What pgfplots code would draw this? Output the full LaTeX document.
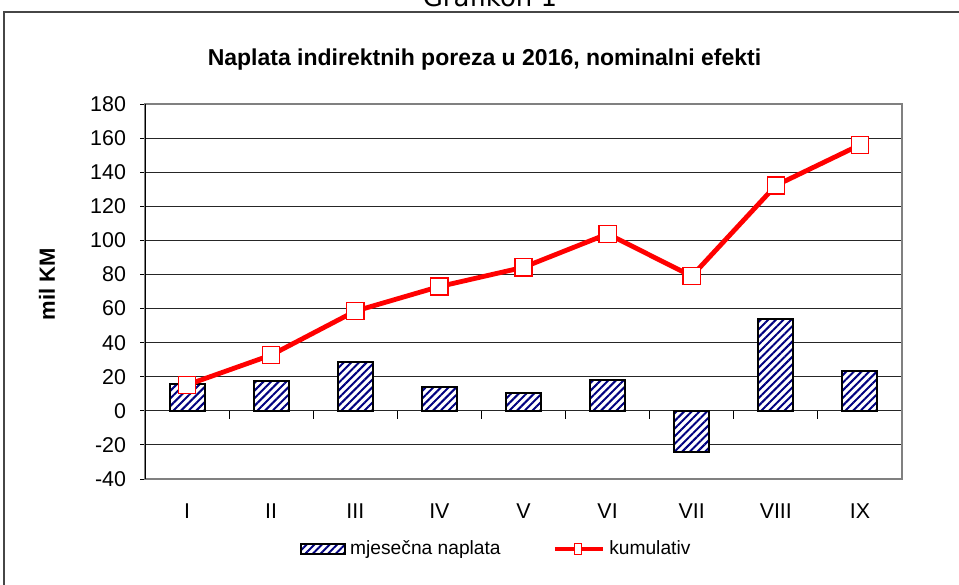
\documentclass[border=0pt]{standalone}
\usepackage{pgfplots}
\pgfplotsset{compat=1.18}
\usepackage{fontspec}
\setmainfont{Liberation Sans}
\newfontfamily\dejavu{DejaVu Sans}
\usetikzlibrary{patterns.meta}
\definecolor{navy}{RGB}{0,0,128}
\definecolor{xlred}{RGB}{255,0,0}
\tikzset{hatch/.style={preaction={fill=white}, preaction={pattern={Lines[angle=45,distance=2.7pt,line width=1pt]}, pattern color=navy}}}
\pgfplotstableread{
x  monthly  cumul
0  15.6   15.2
1  17.4   32.7
2  28.5   58.5
3  14.1   72.9
4  10.2   84.2
5  17.9  103.8
6 -24.3   79.0
7  53.7  132.2
8  23.2  156.0
}\datatable
\begin{document}
\begin{tikzpicture}
\useasboundingbox (0,0) rectangle (479.5pt,292pt);
\clip (0,0) rectangle (479.5pt,292pt);
\draw[gray!55!black, line width=1pt] (2pt,-10pt) rectangle (500pt,286pt);
\node[anchor=base, font=\dejavu\fontsize{13}{15}\selectfont] at (245pt,288.5pt) {Grafikon 1};
\node[anchor=base, font=\bfseries\fontsize{11.5}{13}\selectfont] at (242.25pt,259pt) {Naplata indirektnih poreza u 2016, nominalni efekti};
\node[rotate=90, font=\bfseries\fontsize{11}{13}\selectfont] at (23.5pt,150pt) {mil KM};
\begin{axis}[
  at={(72.5pt,52.5pt)}, anchor=south west,
  scale only axis, width=378.5pt, height=187.5pt,
  xmin=-0.5, xmax=8.5, ymin=-40, ymax=180,
  ytick={-40,-20,...,180},
  xtick={0,...,8}, xticklabels={I,II,III,IV,V,VI,VII,VIII,IX},
  x tick style={draw=none},
  ytick pos=left, tick align=outside, major tick length=2.5pt,
  y tick style={black, line width=0.5pt},
  ymajorgrids, grid style={black!85, line width=0.5pt},
  axis line style={gray, line width=0.6pt},
  tick label style={font=\fontsize{10.7}{12}\selectfont},
  /pgf/number format/assume math mode=true,
  yticklabel style={xshift=-3.5pt},
  xticklabel style={yshift=-6.5pt},
  bar width=17.5pt,
  legend columns=2,
  legend style={draw=none, fill=none, at={(0.2045,0)}, anchor=west, yshift=-35pt, inner sep=0pt,
    font=\fontsize{9.6}{11}\selectfont, /tikz/every even column/.append style={column sep=24pt}},
]
\addplot[ybar, draw=black, line width=1pt, hatch,
  legend image code/.code={\draw[black, line width=1pt, hatch] (0pt,-2.5pt) rectangle (22pt,2.5pt);}]
  table[x=x, y=monthly] {\datatable};
\addlegendentry{mjesečna naplata}
\addplot[xlred, line width=2.4pt, mark=square*, mark size=4.3pt,
  mark options={fill=white, draw=xlred, line width=0.7pt},
  legend image code/.code={\draw[xlred, line width=2.3pt] (0pt,0pt) -- (24pt,0pt);
    \draw[xlred, fill=white, line width=0.5pt] (9.7pt,-2.9pt) rectangle (13.3pt,2.9pt);}]
  table[x=x, y=cumul] {\datatable};
\addlegendentry{kumulativ}
\draw[black, line width=0.6pt] (rel axis cs:0,0) -- (rel axis cs:0,1);
\draw[black, line width=0.5pt] (axis cs:0.5,0) -- ++(0pt,-4pt);
\draw[black, line width=0.5pt] (axis cs:1.5,0) -- ++(0pt,-4pt);
\draw[black, line width=0.5pt] (axis cs:2.5,0) -- ++(0pt,-4pt);
\draw[black, line width=0.5pt] (axis cs:3.5,0) -- ++(0pt,-4pt);
\draw[black, line width=0.5pt] (axis cs:4.5,0) -- ++(0pt,-4pt);
\draw[black, line width=0.5pt] (axis cs:5.5,0) -- ++(0pt,-4pt);
\draw[black, line width=0.5pt] (axis cs:6.5,0) -- ++(0pt,-4pt);
\draw[black, line width=0.5pt] (axis cs:7.5,0) -- ++(0pt,-4pt);
\end{axis}
\end{tikzpicture}
\end{document}
